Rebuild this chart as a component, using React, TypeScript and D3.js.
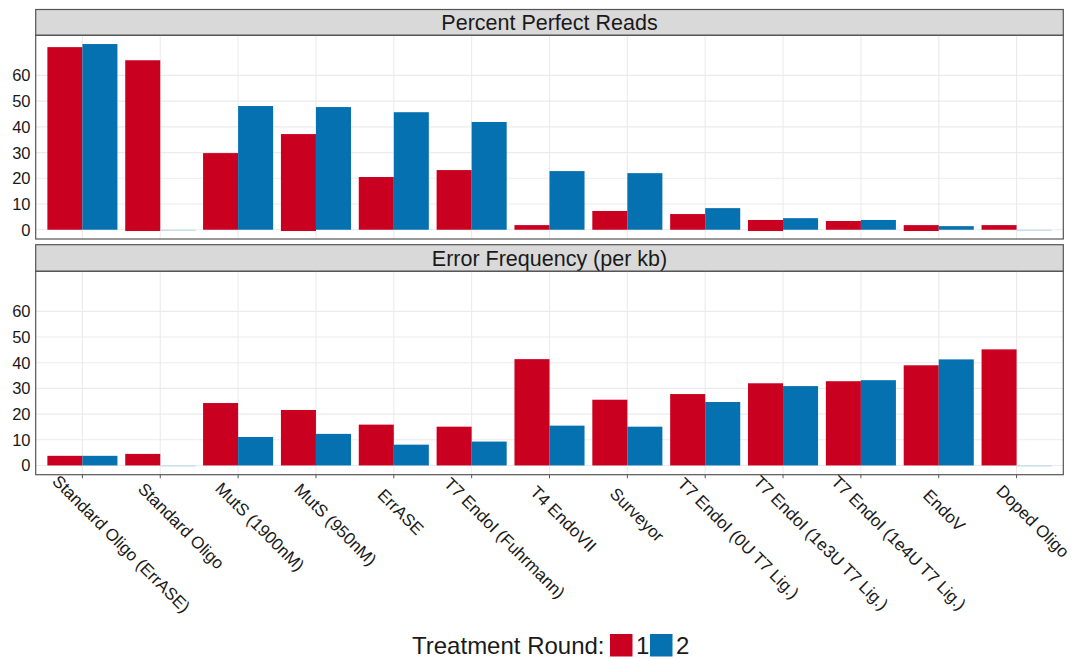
import React, { useRef, useEffect } from 'react';
import { select, scaleBand, scaleLinear } from 'd3';

const categories = [
    'Standard Oligo (ErrASE)',
    'Standard Oligo',
    'MutS (1900nM)',
    'MutS (950nM)',
    'ErrASE',
    'T7 EndoI (Fuhrmann)',
    'T4 EndoVII',
    'Surveyor',
    'T7 EndoI (0U T7 Lig.)',
    'T7 EndoI (1e3U T7 Lig.)',
    'T7 EndoI (1e4U T7 Lig.)',
    'EndoV',
    'Doped Oligo',
];
const rounds = ['1', '2'];

// Percent Perfect Reads
const perfectRound1 = [71.0, 65.9, 29.8, 37.2, 20.5, 23.2, 1.8, 7.3, 6.1, 3.8, 3.4, 1.8, 1.8];
const perfectRound1Low = [0, -0.5, 0, -0.5, 0, 0, 0, 0, 0, -0.5, 0, -0.5, 0];
const perfectRound2 = [72.2, 0, 48.1, 47.7, 45.7, 41.9, 22.8, 22.0, 8.4, 4.5, 3.8, 1.4, 0];

// Error Frequency (per kb)
const errorRound1 = [3.75, 4.5, 24.3, 21.6, 15.9, 15.1, 41.4, 25.6, 27.8, 32.0, 32.8, 39.0, 45.2];
const errorRound2 = [3.75, 0, 11.1, 12.3, 8.1, 9.3, 15.5, 15.1, 24.7, 30.9, 33.2, 41.3, 0];

const yTicks = [0, 10, 20, 30, 40, 50, 60];

export default function App() {
    const ref = useRef<SVGSVGElement | null>(null);

    useEffect(() => {
        if (!ref.current) return;
        const svg = select(ref.current);
        svg.selectAll('*').remove();

        const W = 1074, H = 659;
        const left = 35.7, right = 1063.3;
        const red = '#CA0020', blue = '#0571B0';
        const gridColor = '#EBEBEB';
        const borderColor = '#555555';
        const textColor = '#1a1a1a';
        const font = '"Liberation Sans", Arial, sans-serif';

        svg.attr('width', W).attr('height', H);
        svg.append('rect').attr('width', W).attr('height', H).attr('fill', '#fff');

        const x = scaleBand<string>().domain(categories).range([left, right]).paddingInner(0).paddingOuter(0.1);
        const step = x.bandwidth();
        const x1 = scaleBand<string>().domain(rounds).range([0, step * 0.9]);

        const panels = [
            { title: 'Percent Perfect Reads', strip: [9.5, 35.3], plot: [35.3, 239], r1: perfectRound1, r1Low: perfectRound1Low, r2: perfectRound2 },
            { title: 'Error Frequency (per kb)', strip: [244.7, 271.3], plot: [271.3, 474.7], r1: errorRound1, r1Low: categories.map(() => 0), r2: errorRound2 },
        ];

        panels.forEach((p, pi) => {
            const g = svg.append('g');
            const y = scaleLinear().domain([-3.6, 75.6]).range([p.plot[1], p.plot[0]]);

            // strip
            g.append('rect')
                .attr('x', left).attr('y', p.strip[0])
                .attr('width', right - left).attr('height', p.strip[1] - p.strip[0])
                .attr('fill', '#D9D9D9').attr('stroke', borderColor).attr('stroke-width', 1.2);
            g.append('text')
                .attr('x', (left + right) / 2).attr('y', (p.strip[0] + p.strip[1]) / 2)
                .attr('dy', '0.36em')
                .attr('text-anchor', 'middle')
                .style('font-family', font).style('font-size', '21.5px').style('fill', textColor)
                .text(p.title);

            // grid
            g.selectAll('.hgrid').data(yTicks).enter().append('line')
                .attr('x1', left).attr('x2', right)
                .attr('y1', d => y(d)).attr('y2', d => y(d))
                .attr('stroke', gridColor).attr('stroke-width', 1.1);
            g.selectAll('.vgrid').data(categories).enter().append('line')
                .attr('x1', d => x(d)! + step / 2).attr('x2', d => x(d)! + step / 2)
                .attr('y1', p.plot[0]).attr('y2', p.plot[1])
                .attr('stroke', gridColor).attr('stroke-width', 1.1);

            // bars
            const rows = categories.flatMap((c, i) => [
                { c, r: '1', lo: p.r1Low[i], v: p.r1[i] },
                { c, r: '2', lo: 0, v: p.r2[i] },
            ]);
            rows.forEach(d => {
                const bx = x(d.c)! + step * 0.05 + x1(d.r)!;
                if (d.v === 0) {
                    g.append('line')
                        .attr('x1', bx).attr('x2', bx + x1.bandwidth())
                        .attr('y1', y(0) + 0.5).attr('y2', y(0) + 0.5)
                        .attr('stroke', '#B7D5EA').attr('stroke-width', 1);
                    return;
                }
                g.append('rect')
                    .attr('x', bx).attr('width', x1.bandwidth())
                    .attr('y', y(d.v)).attr('height', y(d.lo) - y(d.v))
                    .attr('fill', d.r === '1' ? red : blue);
            });

            // y labels
            g.selectAll('.ylab').data(yTicks).enter().append('text')
                .attr('x', 30.5).attr('y', d => y(d)).attr('dy', '0.36em')
                .attr('text-anchor', 'end')
                .style('font-family', font).style('font-size', '16.5px').style('fill', textColor)
                .text(d => d);

            // panel border
            g.append('rect')
                .attr('x', left).attr('y', p.plot[0])
                .attr('width', right - left).attr('height', p.plot[1] - p.plot[0])
                .attr('fill', 'none').attr('stroke', borderColor).attr('stroke-width', 1.2);

            // x axis on bottom panel
            if (pi === 1) {
                const tickY = p.plot[1];
                g.selectAll('.xtick').data(categories).enter().append('line')
                    .attr('x1', d => x(d)! + step / 2).attr('x2', d => x(d)! + step / 2)
                    .attr('y1', tickY).attr('y2', tickY + 3.5)
                    .attr('stroke', borderColor).attr('stroke-width', 1);
                const labels = g.selectAll('.xlab').data(categories).enter().append('text')
                    .attr('transform', d => `translate(${x(d)! + step / 2},${tickY + 3.2}) rotate(45)`)
                    .attr('y', 25)
                    .style('font-family', font).style('font-size', '17px').style('fill', textColor)
                    .text(d => d);
                labels.each(function () {
                    const t = this as SVGTextElement;
                    const w = t.getComputedTextLength();
                    select(t).attr('x', 9 - 0.15 * w);
                });
            }
        });

        // legend
        const lg = svg.append('g');
        lg.append('text')
            .attr('x', 412).attr('y', 653.5)
            .style('font-family', font).style('font-size', '24px').style('fill', textColor)
            .text('Treatment Round:');
        [{ k: '1', c: red, x: 610 }, { k: '2', c: blue, x: 650 }].forEach(d => {
            lg.append('rect').attr('x', d.x).attr('y', 634).attr('width', 22.5).attr('height', 22.5).attr('fill', d.c);
            lg.append('text')
                .attr('x', d.x + 26).attr('y', 653.5)
                .style('font-family', font).style('font-size', '24px').style('fill', textColor)
                .text(d.k);
        });
    }, []);

    return (
        <svg ref={ref} style={{ position: 'absolute', left: 0, top: 0, display: 'block' }} />
    );
}
